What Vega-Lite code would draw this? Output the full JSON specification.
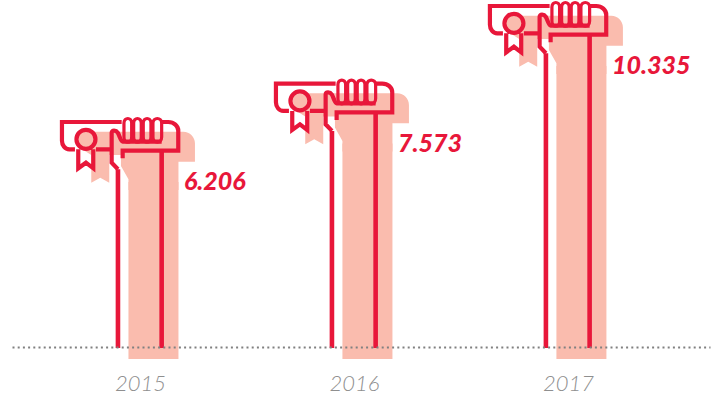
{
  "$schema": "https://vega.github.io/schema/vega-lite/v6.json",
  "width": 698,
  "height": 347,
  "autosize": "none",
  "padding": {"left": 12, "right": 8, "top": 0, "bottom": 55},
  "background": "white",
  "config": {"view": {"stroke": null}},
  "data": {"values": [
    {"year": 2015, "value": 6206, "label": "6.206"},
    {"year": 2016, "value": 7573, "label": "7.573"},
    {"year": 2017, "value": 10335, "label": "10.335"}
  ]},
  "encoding": {
    "x": {"field": "year", "type": "quantitative", "title": null,
      "scale": {"domain": [2014.402, 2017.664], "nice": false, "zero": false, "padding": 0},
      "axis": {"values": [2015, 2016, 2017], "format": "d", "grid": false, "ticks": false, "zindex": 1,
        "domainColor": "#808080", "domainWidth": 2.2, "domainDash": [2, 3.2],
        "labelFont": "Lato", "labelFontStyle": "italic", "labelFontWeight": 300, "labelFontSize": 22,
        "labelColor": "#8f8f8f", "labelPadding": 26, "labelOverlap": false}},
    "y": {"field": "value", "type": "quantitative", "title": null,
      "scale": {"domain": [-1804, 10549], "nice": false, "zero": false},
      "axis": null}
  },
  "layer": [
    {"mark": {"type": "bar", "size": 50, "color": "#fabcae", "xOffset": 13.5, "yOffset": 60},
     "encoding": {"y2": {"datum": -2231}}},
    {"mark": {"type": "point", "filled": true, "opacity": 1, "fill": "#fabcae", "stroke": null, "size": 4,
       "shape": "M-61.7,9.7 L43.3,9.7 C50,9.7 55,15 55,21.3 L55,39.7 L38.5,39.7 L38.5,68 L-11.5,68 L-11.5,57.3 L-19,44 L-19,33 L-30.7,33 L-30.7,60.7 L-39.7,55.7 L-48.7,60.7 L-48.7,33 L-61.7,24.7 Z"}},
    {"mark": {"type": "rule", "color": "#e8173a", "strokeWidth": 4.6, "xOffset": -22, "yOffset": 47.3},
     "encoding": {"y2": {"datum": -1840}}},
    {"mark": {"type": "rule", "color": "#e8173a", "strokeWidth": 4.6, "xOffset": 21.7, "yOffset": 28.7},
     "encoding": {"y2": {"datum": -1840}}},
    {"mark": {"type": "point", "filled": false, "opacity": 1, "stroke": "#e8173a", "strokeWidth": 4.2, "size": 4,
       "shape": "M-65,27.3 L-70.7,27.3 C-75,27.3 -78,23 -78,18.7 L-78,0 L-18.3,0 M-44.5,17.3 C-44.5,22.5 -48.8,26.8 -54,26.8 C-59.2,26.8 -63.5,22.5 -63.5,17.3 C-63.5,12.1 -59.2,7.8 -54,7.8 C-48.8,7.8 -44.5,12.1 -44.5,17.3 Z M-61.7,27.3 L-61.7,46.3 L-54,40.7 L-46.7,46.3 L-46.7,27.3 M-44,27.3 L-28.3,27.3 M-22,47.3 L-28.3,40.7 L-28.3,10.7 C-28.3,8 -24,8 -22,11 C-20,15 -19,19.7 -17.3,19.7 L21.7,19.7 M21.7,0 L28.3,0 C34,0 38.3,4 38.3,8.7 L38.3,28.7 L-17.3,28.7 L-17.3,36.3"}},
    {"mark": {"type": "point", "filled": false, "opacity": 1, "stroke": "#e8173a", "strokeWidth": 3.2, "size": 4,
       "shape": "M-16,1 C-16,-5 -8.3,-5 -8.3,1 L-8.3,15 C-8.3,22 -16,22 -16,15 Z M-6.3,1 C-6.3,-5 1.3,-5 1.3,1 L1.3,15 C1.3,22 -6.3,22 -6.3,15 Z M3.3,1 C3.3,-5 11,-5 11,1 L11,15 C11,22 3.3,22 3.3,15 Z M13,1 C13,-5 21.7,-5 21.7,1 L21.7,15 C21.7,22 13,22 13,15 Z"}},
    {"mark": {"type": "text", "align": "left", "baseline": "middle", "font": "Lato", "fontStyle": "italic", "fontWeight": 900, "fontSize": 25, "color": "#e8173a", "xOffset": 44, "yOffset": 60},
     "encoding": {"text": {"field": "label", "type": "nominal"}}}
  ]
}
